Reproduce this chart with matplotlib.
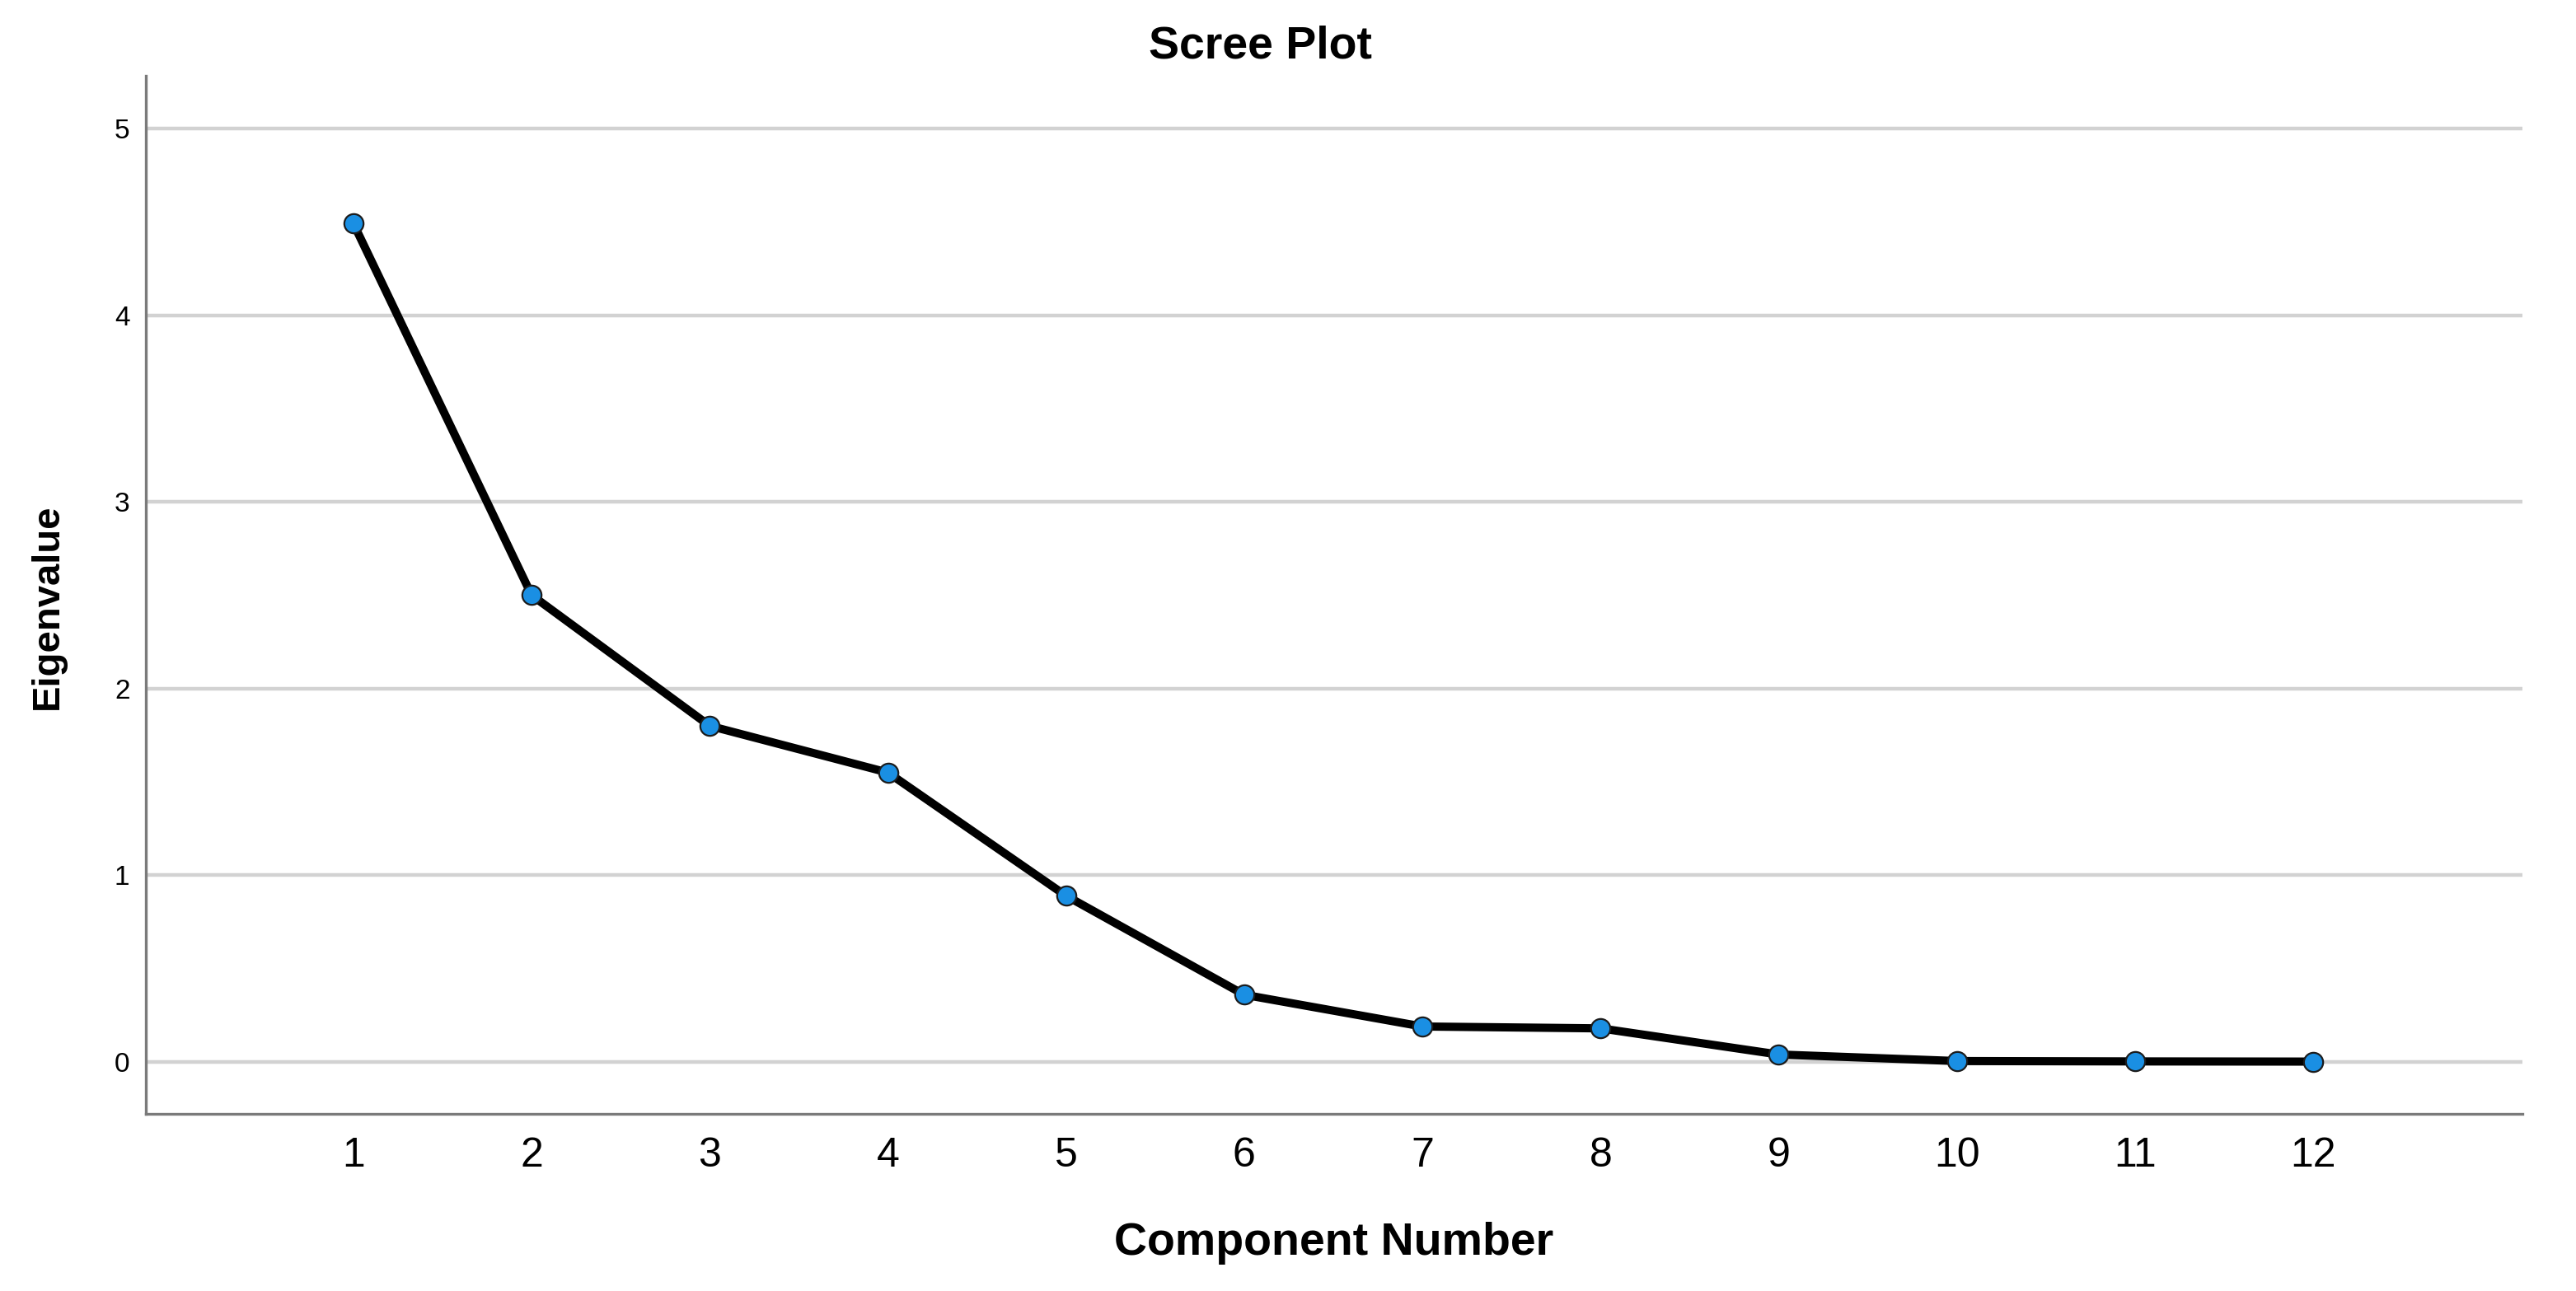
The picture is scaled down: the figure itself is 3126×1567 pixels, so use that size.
#!/usr/bin/env python3

import matplotlib
matplotlib.use("Agg")
import matplotlib.pyplot as plt


components = [1, 2, 3, 4, 5, 6, 7, 8, 9, 10, 11, 12]
eigenvalues = [4.49, 2.50, 1.80, 1.55, 0.89, 0.36, 0.19, 0.18, 0.04, 0.005, 0.003, 0.002]
y_ticks = [0, 1, 2, 3, 4, 5]

plt.rcParams["font.family"] = ["Liberation Sans", "DejaVu Sans"]


def main() -> None:
    figure = plt.figure(figsize=(15.63, 7.835), dpi=200)
    axis = figure.add_axes((0.0566, 0.1372, 0.9226, 0.8041))

    # Light horizontal grid behind everything, SPSS style.
    axis.set_axisbelow(True)
    axis.grid(True, axis="y", color="#d2d2d2", linewidth=1.6)
    axis.grid(False, axis="x")

    axis.plot(
        components,
        eigenvalues,
        color="black",
        linewidth=3.6,
        marker="o",
        markersize=8.4,
        markerfacecolor="#1a8fe3",
        markeredgecolor="#1c1c1c",
        markeredgewidth=0.8,
        zorder=3,
    )

    axis.set_xlim(-0.166, 13.175)
    axis.set_ylim(-0.278, 5.282)
    axis.set_xticks(components)
    axis.set_yticks(y_ticks)

    axis.tick_params(axis="x", length=0, pad=10, labelsize=18)
    axis.tick_params(axis="y", length=0, pad=7, labelsize=12)

    for side in ("top", "right"):
        axis.spines[side].set_visible(False)
    for side in ("left", "bottom"):
        axis.spines[side].set_color("#7a7a7a")
        axis.spines[side].set_linewidth(1.2)

    axis.set_xlabel("Component Number", fontsize=20, fontweight="bold")
    axis.xaxis.set_label_coords(0.5, -0.104)
    figure.text(
        0.0185, 1 - 736 / 1567, "Eigenvalue",
        rotation=90, ha="center", va="center",
        fontsize=17, fontweight="bold",
    )
    figure.text(
        0.4894, 0.964, "Scree Plot",
        ha="center", va="center",
        fontsize=20, fontweight="bold",
    )

    figure.savefig("out.png", dpi=200, facecolor="white")
    plt.close(figure)


if __name__ == "__main__":
    main()
